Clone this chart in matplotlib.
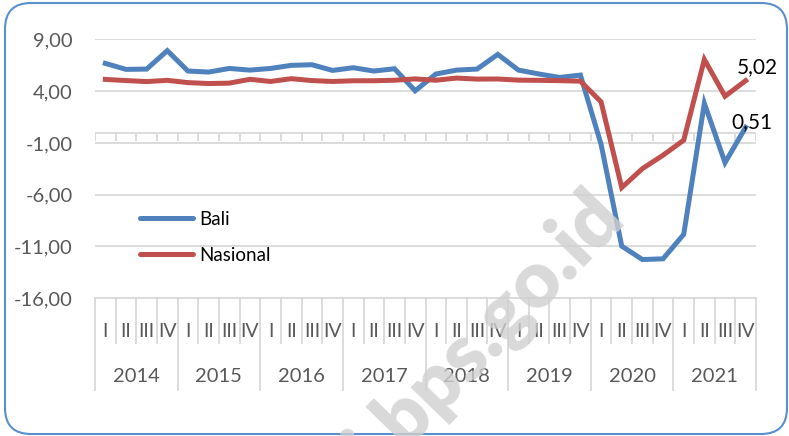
import matplotlib.pyplot as plt
from matplotlib.patches import FancyBboxPatch
from matplotlib.transforms import IdentityTransform, blended_transform_factory

plt.rcParams['font.family'] = ['Lato', 'DejaVu Sans']

years = ['2014', '2015', '2016', '2017', '2018', '2019', '2020', '2021']
quarters = ['I', 'II', 'III', 'IV']

bali = [6.69, 6.11, 6.14, 7.92, 5.95, 5.85, 6.20, 6.04,
        6.20, 6.50, 6.56, 6.01, 6.27, 5.95, 6.17, 4.04,
        5.66, 6.04, 6.14, 7.56, 6.04, 5.66, 5.33, 5.56,
        -1.14, -10.98, -12.28, -12.21, -9.85, 2.83, -2.91, 0.51]
nasional = [5.14, 5.03, 4.93, 5.05, 4.83, 4.74, 4.78, 5.15,
            4.94, 5.21, 5.03, 4.94, 5.01, 5.01, 5.06, 5.19,
            5.06, 5.27, 5.17, 5.18, 5.07, 5.05, 5.02, 4.97,
            2.97, -5.32, -3.49, -2.19, -0.74, 7.07, 3.51, 5.02]
yticks = [9, 4, -1, -6, -11, -16]

blue = '#4F81BD'
red = '#C0504D'
grey = '#D9D9D9'
txt = '#595959'

fig = plt.figure(figsize=(7.89, 4.36), dpi=100)
ax = fig.add_axes([95 / 789, 138 / 436, 661 / 789, 258.5 / 436])

n = len(bali)
x = list(range(n))
ax.set_xlim(-0.5, n - 0.5)
ax.set_ylim(-16, 9)

for y in yticks[:-1]:
    ax.axhline(y, color=grey, lw=1.3, zorder=1)
ax.axhline(0, color=grey, lw=1.3, zorder=1)
ax.vlines([i - 0.5 for i in range(n + 1)], -0.8, 0, color=grey, lw=1.3, zorder=1)

ax.plot(x, bali, color=blue, lw=3.6, label='Bali', zorder=3, solid_joinstyle='miter')
ax.plot(x, nasional, color=red, lw=3.6, label='Nasional', zorder=3, solid_joinstyle='miter')

ax.text(n - 1 - 0.45, nasional[-1] + 1.3, '5,02', fontsize=15, color='black', va='center')
ax.text(n - 1 - 0.7, bali[-1] + 0.5, '0,51', fontsize=15, color='black', va='center')

ax.set_yticks(yticks)
ax.set_yticklabels([('%.2f' % v).replace('.', ',') for v in yticks])
ax.tick_params(axis='y', length=0, pad=16, labelsize=14.5, labelcolor=txt)
ax.set_xticks([])
for s in ax.spines.values():
    s.set_visible(False)

# category axis box
tr = blended_transform_factory(ax.transData, ax.transAxes)
ax.plot([-0.5, n - 0.5], [0, 0], color=grey, lw=1.3, transform=tr, clip_on=False)
for i in range(n + 1):
    low = -0.356 if i % 4 == 0 else -0.174
    ax.plot([i - 0.5, i - 0.5], [0, low], color=grey, lw=1.3, transform=tr, clip_on=False)
for i in range(n):
    ax.text(i, -0.13, quarters[i % 4], transform=tr, ha='center', va='center',
            fontsize=14, color=txt)
for k, yr in enumerate(years):
    ax.text(4 * k + 1.5, -0.302, yr, transform=tr, ha='center', va='center',
            fontsize=14.5, color=txt)

leg = ax.legend(loc='upper left', bbox_to_anchor=(140 / 789, 1 - 211 / 436),
                bbox_transform=fig.transFigure, frameon=False, fontsize=13.5,
                handlelength=2.85, handletextpad=0.3, labelspacing=1.0,
                borderpad=0, borderaxespad=0)
for line in leg.get_lines():
    line.set_linewidth(3.6)
    line.set_solid_capstyle('round')

# watermark (display coords, y from bottom)
fig.text(627, 436 - 219, 'bali.bps.go.id', transform=IdentityTransform(), fontsize=57,
         fontweight='heavy', color='#D0D0D0', alpha=0.8, rotation=46,
         rotation_mode='anchor', ha='right', va='baseline', zorder=10)

frame = FancyBboxPatch((5, 2), 782, 431, boxstyle='round,pad=0,rounding_size=26',
                       transform=IdentityTransform(), fill=False, ec='#5B8FCB', lw=1.5)
fig.patches.append(frame)

fig.savefig('out.png', dpi=100)
